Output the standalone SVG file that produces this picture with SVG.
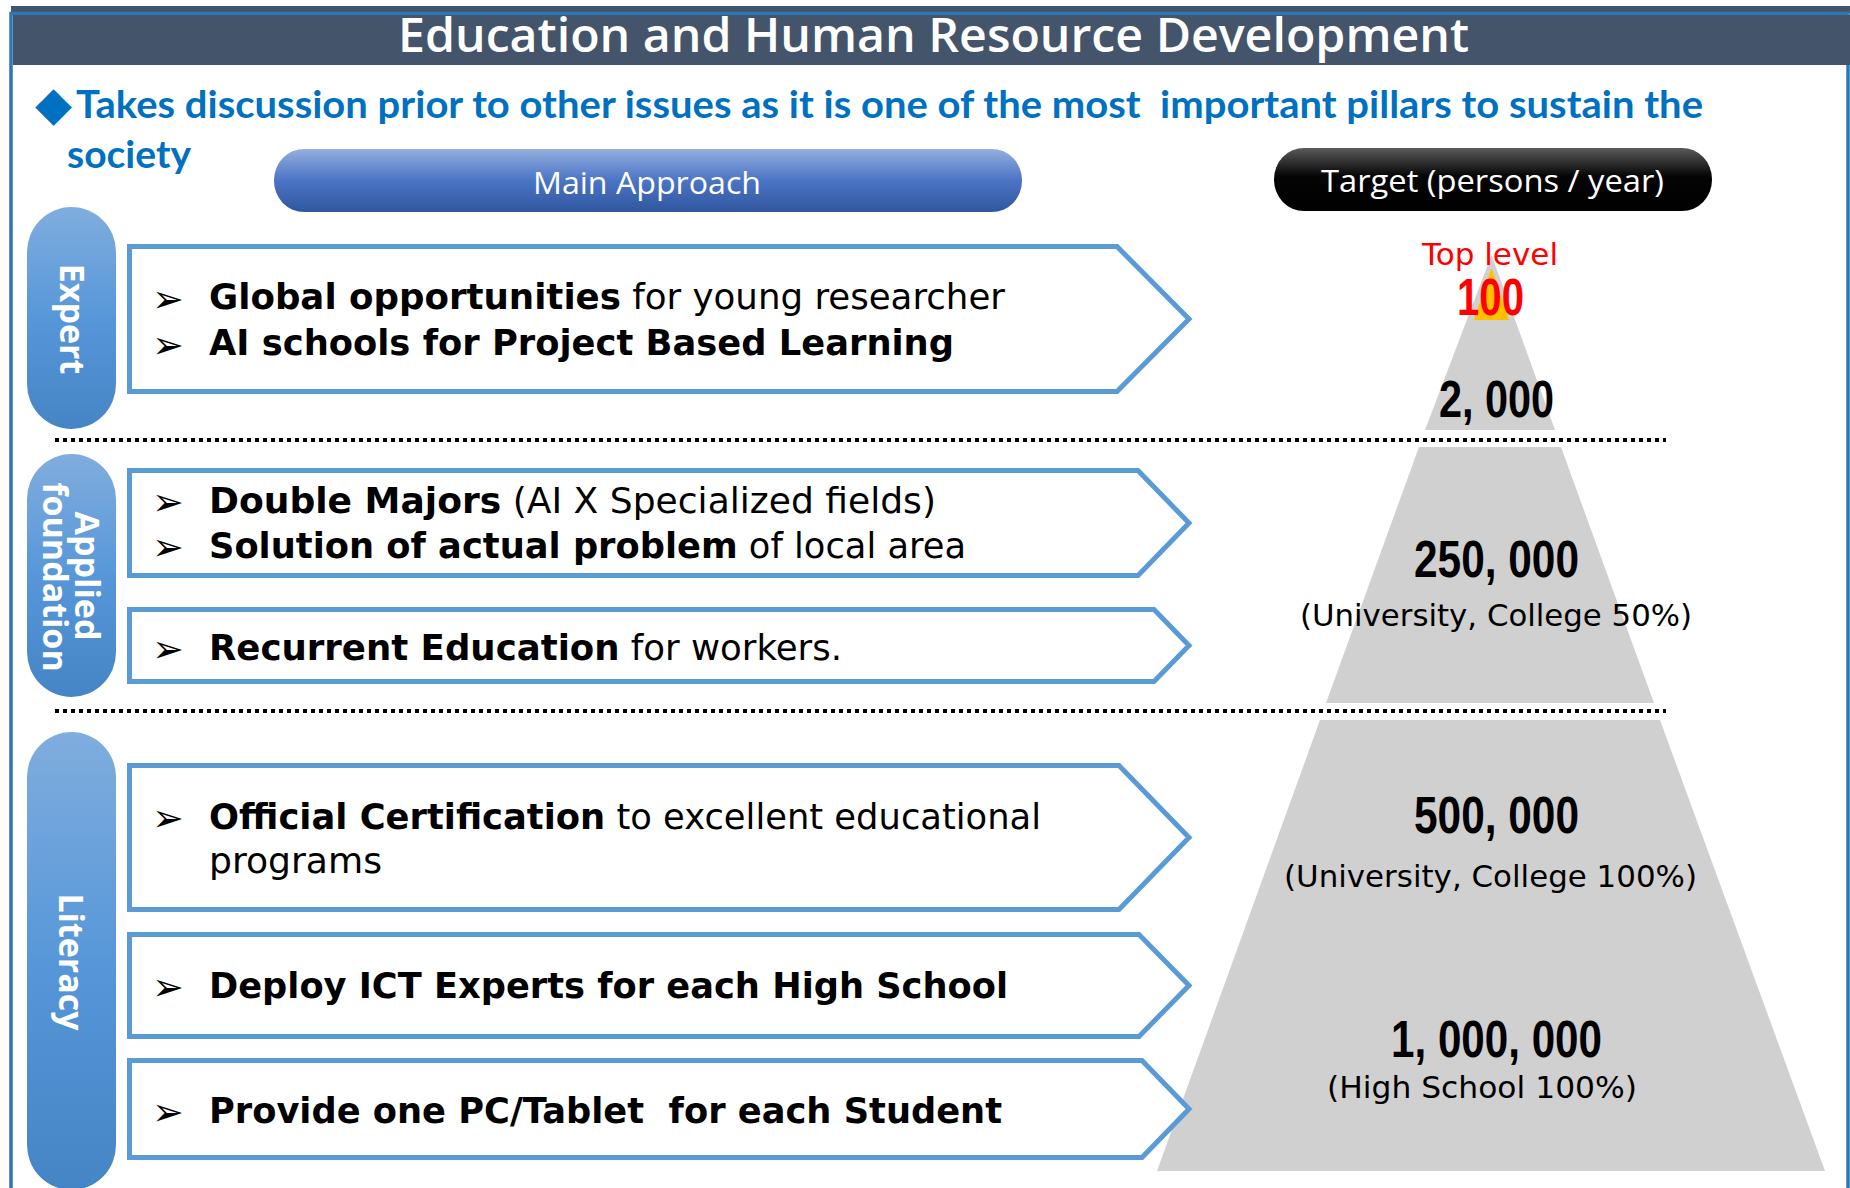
<svg xmlns="http://www.w3.org/2000/svg" width="1850" height="1188" viewBox="0 0 1850 1188">
<defs>
<linearGradient id="gPill" x1="0" y1="0" x2="0" y2="1">
<stop offset="0" stop-color="#80ADDE"/>
<stop offset="0.5" stop-color="#5797D9"/>
<stop offset="1" stop-color="#4585C6"/>
</linearGradient>
<linearGradient id="gMain" x1="0" y1="0" x2="0" y2="1">
<stop offset="0" stop-color="#94AFE0"/>
<stop offset="0.5" stop-color="#4B74C5"/>
<stop offset="1" stop-color="#30569E"/>
</linearGradient>
<linearGradient id="gTarget" x1="0" y1="0" x2="0" y2="1">
<stop offset="0" stop-color="#5A5A5A"/>
<stop offset="0.45" stop-color="#050505"/>
<stop offset="1" stop-color="#000000"/>
</linearGradient>
<style>
.box{fill:#FFFFFF;stroke:#5B9BD5;stroke-width:5;stroke-linejoin:miter}
.t{font-family:"DejaVu Sans",Verdana,sans-serif;font-size:35px;fill:#000}
.b{font-weight:bold}
.bul{font-family:"DejaVu Sans",sans-serif;font-size:38px;fill:#000}
.lbl{font-family:"Open Sans","DejaVu Sans",sans-serif;font-weight:bold;font-size:34px;fill:#FFFFFF;text-anchor:middle}
.num{font-family:"Liberation Sans Narrow","Liberation Sans",Arial,sans-serif;font-weight:bold;font-size:52px;fill:#000}
.sub{font-family:"DejaVu Sans",Verdana,sans-serif;font-size:31px;fill:#000}
.dot{stroke:#000;stroke-width:4;stroke-dasharray:4 4;fill:none}
.pill{fill:url(#gPill)}
.gray{fill:#D0D0D0}
</style>
</defs>

<!-- frame and header -->
<rect x="11" y="6" width="1839" height="7" fill="#44546A"/>
<rect x="11" y="13.5" width="1837" height="1200" fill="#FFFFFF" stroke="#2E75B6" stroke-width="3.5"/>
<rect x="13" y="15" width="1837" height="50" fill="#44546A"/>
<text x="398" y="52" textLength="1071" lengthAdjust="spacingAndGlyphs" font-family="'Open Sans','Noto Sans',sans-serif" font-weight="600" font-size="47" fill="#FFFFFF">Education and Human Resource Development</text>

<!-- subtitle -->
<text x="35" y="120" font-family="'DejaVu Sans',sans-serif" font-size="48" fill="#0070C0">◆</text>
<text x="76" y="118" textLength="1627" lengthAdjust="spacingAndGlyphs" font-family="Lato,'Open Sans',sans-serif" font-weight="bold" font-size="38" fill="#0070C0">Takes discussion prior to other issues as it is one of the most&#160; important pillars to sustain the</text>
<text x="67" y="168" textLength="124" lengthAdjust="spacingAndGlyphs" font-family="Lato,'Open Sans',sans-serif" font-weight="bold" font-size="38" fill="#0070C0">society</text>

<!-- column headers -->
<g id="main-approach">
<rect x="274" y="149" width="748" height="63" rx="30" ry="31" fill="url(#gMain)"/>
<text x="533" y="194" textLength="228" lengthAdjust="spacingAndGlyphs" font-family="'Open Sans',sans-serif" font-size="31" fill="#FFFFFF">Main Approach</text>
</g>
<g id="target-header">
<rect x="1274" y="148" width="438" height="63" rx="30" ry="31" fill="url(#gTarget)"/>
<text x="1321" y="192" textLength="343" lengthAdjust="spacingAndGlyphs" font-family="'Open Sans',sans-serif" font-size="31" fill="#FFFFFF">Target (persons / year)</text>
</g>

<!-- level labels -->
<g id="label-expert">
<rect class="pill" x="27" y="207" width="89" height="222" rx="44.5" ry="45"/>
<text class="lbl" transform="translate(60,319) rotate(90)">Expert</text>
</g>
<g id="label-applied">
<rect class="pill" x="27" y="454" width="89" height="243" rx="44.5" ry="45"/>
<text class="lbl" transform="translate(75,576) rotate(90)">Applied</text>
<text class="lbl" transform="translate(43,577) rotate(90)">foundation</text>
</g>
<g id="label-literacy">
<rect class="pill" x="27" y="732" width="89" height="458" rx="44.5" ry="45"/>
<text class="lbl" transform="translate(59,962) rotate(90)">Literacy</text>
</g>

<!-- separators -->
<g id="connectors">
<line class="dot" x1="55" y1="440" x2="1666" y2="440"/>
<line class="dot" x1="55" y1="711" x2="1666" y2="711"/>
</g>

<!-- pyramid -->
<g id="pyramid-top">
<polygon class="gray" points="1491.5,255 1555,430 1425,430"/>
<polygon points="1491.5,268 1509,320 1474,320" fill="#FFC000"/>
<text x="1422" y="265" textLength="136" lengthAdjust="spacingAndGlyphs" font-family="'DejaVu Sans',sans-serif" font-size="30" fill="#FF0000">Top level</text>
<text x="1457" y="315" textLength="67" lengthAdjust="spacingAndGlyphs" font-family="'Liberation Sans Narrow','Liberation Sans',sans-serif" font-weight="bold" font-size="51" fill="#FF0000">100</text>
<text class="num" x="1439" y="417" textLength="115" lengthAdjust="spacingAndGlyphs">2, 000</text>
</g>
<g id="pyramid-mid">
<polygon class="gray" points="1419,447 1561,447 1654,703 1326,703"/>
<text class="num" x="1414" y="577" textLength="165" lengthAdjust="spacingAndGlyphs">250, 000</text>
<text class="sub" x="1300" y="626" textLength="392" lengthAdjust="spacingAndGlyphs">(University, College 50%)</text>
</g>
<g id="pyramid-base">
<polygon class="gray" points="1320,720 1660,720 1825,1171 1157,1171"/>
<text class="num" x="1414" y="833" textLength="165" lengthAdjust="spacingAndGlyphs">500, 000</text>
<text class="sub" x="1284" y="887" textLength="413" lengthAdjust="spacingAndGlyphs">(University, College 100%)</text>
<text class="num" x="1391" y="1057" textLength="211" lengthAdjust="spacingAndGlyphs">1, 000, 000</text>
<text class="sub" x="1327" y="1098" textLength="310" lengthAdjust="spacingAndGlyphs">(High School 100%)</text>
</g>

<!-- approach boxes -->
<g id="box-expert">
<path class="box" d="M129.5,246.5 H1117 L1189,319 L1117,391.5 H129.5 Z"/>
<text class="bul" x="152" y="312">➢</text>
<text class="bul" x="152" y="358">➢</text>
<text class="t" x="209" y="309" textLength="796" lengthAdjust="spacingAndGlyphs"><tspan class="b">Global opportunities</tspan> for young researcher</text>
<text class="t b" x="209" y="355" textLength="745" lengthAdjust="spacingAndGlyphs">AI schools for Project Based Learning</text>
</g>
<g id="box-double-majors">
<path class="box" d="M129.5,470.5 H1138 L1189,523 L1138,575.5 H129.5 Z"/>
<text class="bul" x="152" y="515">➢</text>
<text class="bul" x="152" y="560">➢</text>
<text class="t" x="209" y="513" textLength="727" lengthAdjust="spacingAndGlyphs"><tspan class="b">Double Majors</tspan> (AI X Specialized fields)</text>
<text class="t" x="209" y="558" textLength="757" lengthAdjust="spacingAndGlyphs"><tspan class="b">Solution of actual problem</tspan> of local area</text>
</g>
<g id="box-recurrent">
<path class="box" d="M129.5,609.5 H1154 L1189,645.5 L1154,681.5 H129.5 Z"/>
<text class="bul" x="152" y="662">➢</text>
<text class="t" x="209" y="660" textLength="633" lengthAdjust="spacingAndGlyphs"><tspan class="b">Recurrent Education</tspan> for workers.</text>
</g>
<g id="box-certification">
<path class="box" d="M129.5,765.5 H1119 L1189,837.5 L1119,909.5 H129.5 Z"/>
<text class="bul" x="152" y="831">➢</text>
<text class="t" x="209" y="829" textLength="832" lengthAdjust="spacingAndGlyphs"><tspan class="b">Official Certification</tspan> to excellent educational</text>
<text class="t" x="209" y="873" textLength="173" lengthAdjust="spacingAndGlyphs">programs</text>
</g>
<g id="box-ict">
<path class="box" d="M129.5,934.5 H1139 L1189,985.5 L1139,1036.5 H129.5 Z"/>
<text class="bul" x="152" y="1000">➢</text>
<text class="t b" x="209" y="998" textLength="799" lengthAdjust="spacingAndGlyphs">Deploy ICT Experts for each High School</text>
</g>
<g id="box-pc">
<path class="box" d="M129.5,1060.5 H1142 L1189,1109 L1142,1157.5 H129.5 Z"/>
<text class="bul" x="152" y="1125">➢</text>
<text class="t b" x="209" y="1123" textLength="793" lengthAdjust="spacingAndGlyphs">Provide one PC/Tablet&#160; for each Student</text>
</g>
</svg>
